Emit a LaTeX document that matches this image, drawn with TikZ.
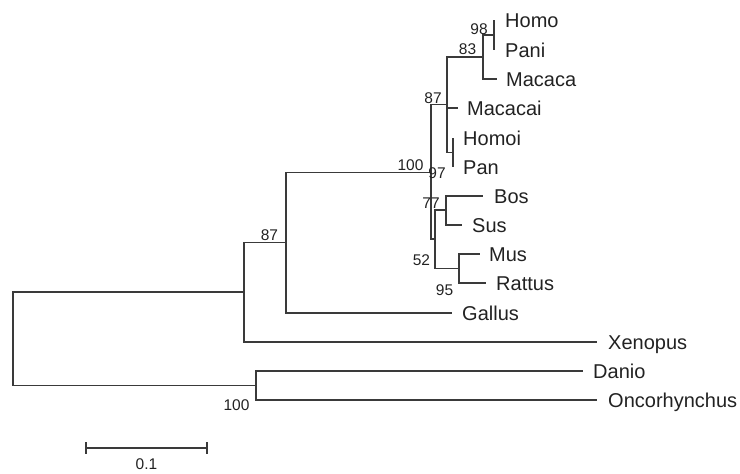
\documentclass[tikz,border=0pt]{standalone}
\usepackage{fontspec}
\setmainfont{Liberation Sans}
\definecolor{ln}{HTML}{3A3A3A}
\definecolor{tx}{HTML}{222222}
\begin{document}
\begin{tikzpicture}[x=1pt,y=-1pt,
  br/.style={draw=ln, line width=1.2pt},
  leaf/.style={anchor=base west, inner sep=0pt, font=\fontsize{20}{22}\selectfont, text=tx, yshift=-7.1pt},
  bs/.style={inner sep=0pt, font=\fontsize{15.5}{17}\selectfont, text=tx}]
\useasboundingbox (0,0) rectangle (740,474);
% internal nodes
\coordinate (R) at (13,338.5);
\coordinate (A) at (244,292);
\coordinate (B) at (286,242.5);
\coordinate (C) at (431,172.5);
\coordinate (N87) at (447,104.5);
\coordinate (N83) at (483,57);
\coordinate (N98) at (494,35);
\coordinate (HP) at (453,152.5);
\coordinate (N77) at (435,239);
\coordinate (BS) at (446,210);
\coordinate (MR) at (459,268.5);
\coordinate (D) at (256,385.5);
% leaf tips
\coordinate (tHomo) at (494,20);
\coordinate (tPani) at (494,50);
\coordinate (tMacaca) at (497,79);
\coordinate (tMacacai) at (458,108);
\coordinate (tHomoi) at (453,138);
\coordinate (tPan) at (453,167);
\coordinate (tBos) at (483,196);
\coordinate (tSus) at (462,225);
\coordinate (tMus) at (480,254);
\coordinate (tRattus) at (486,283);
\coordinate (tGallus) at (452,313);
\coordinate (tXenopus) at (597,342);
\coordinate (tDanio) at (583,371);
\coordinate (tOnco) at (597,400);
% branches
\draw[br] (R) |- (A);
\draw[br] (R) |- (D);
\draw[br] (A) |- (B);
\draw[br] (A) |- (tXenopus);
\draw[br] (B) |- (C);
\draw[br] (B) |- (tGallus);
\draw[br] (C) |- (N87);
\draw[br] (C) |- (N77);
\draw[br] (N87) |- (N83);
\draw[br] (N87) |- (tMacacai);
\draw[br] (N87) |- (HP);
\draw[br] (N83) |- (N98);
\draw[br] (N83) |- (tMacaca);
\draw[br] (N98) |- (tHomo);
\draw[br] (N98) |- (tPani);
\draw[br] (HP) |- (tHomoi);
\draw[br] (HP) |- (tPan);
\draw[br] (N77) |- (BS);
\draw[br] (N77) |- (MR);
\draw[br] (BS) |- (tBos);
\draw[br] (BS) |- (tSus);
\draw[br] (MR) |- (tMus);
\draw[br] (MR) |- (tRattus);
\draw[br] (D) |- (tDanio);
\draw[br] (D) |- (tOnco);
% leaf labels
\node[leaf] (Homo) at (505,20) {Homo};
\node[leaf] (Pani) at (505,50) {Pani};
\node[leaf] (Macaca) at (506,79) {Macaca};
\node[leaf] (Macacai) at (467,108) {Macacai};
\node[leaf] (Homoi) at (463,138) {Homoi};
\node[leaf] (Pan) at (463,167) {Pan};
\node[leaf] (Bos) at (494,196) {Bos};
\node[leaf] (Sus) at (472,225) {Sus};
\node[leaf] (Mus) at (489,254) {Mus};
\node[leaf] (Rattus) at (496,283) {Rattus};
\node[leaf] (Gallus) at (462,313) {Gallus};
\node[leaf] (Xenopus) at (608,342) {Xenopus};
\node[leaf] (Danio) at (593,371) {Danio};
\node[leaf] (Onco) at (608,400) {Oncorhynchus};
% bootstrap values
\node[bs] (b98) at (479,29) {98};
\node[bs] (b83) at (467.5,49.5) {83};
\node[bs] (b87a) at (433,98.5) {87};
\node[bs] (b100a) at (410.5,165.5) {100};
\node[bs] (b97) at (437,173.5) {97};
\node[bs] (b77) at (431,203.5) {77};
\node[bs] (b52) at (421.5,260.5) {52};
\node[bs] (b95) at (444.5,290.5) {95};
\node[bs] (b87b) at (269.5,235.5) {87};
\node[bs] (b100b) at (236.5,405.5) {100};
% scale bar
\coordinate (sL) at (86,448);
\coordinate (sR) at (207,448);
\coordinate (sLt) at (86,442);
\coordinate (sLb) at (86,454);
\coordinate (sRt) at (207,442);
\coordinate (sRb) at (207,454);
\draw[br] (sL) -- (sR);
\draw[br] (sLt) -- (sLb);
\draw[br] (sRt) -- (sRb);
\node[bs] (scale) at (146.5,464.5) {0.1};
\end{tikzpicture}
\end{document}
